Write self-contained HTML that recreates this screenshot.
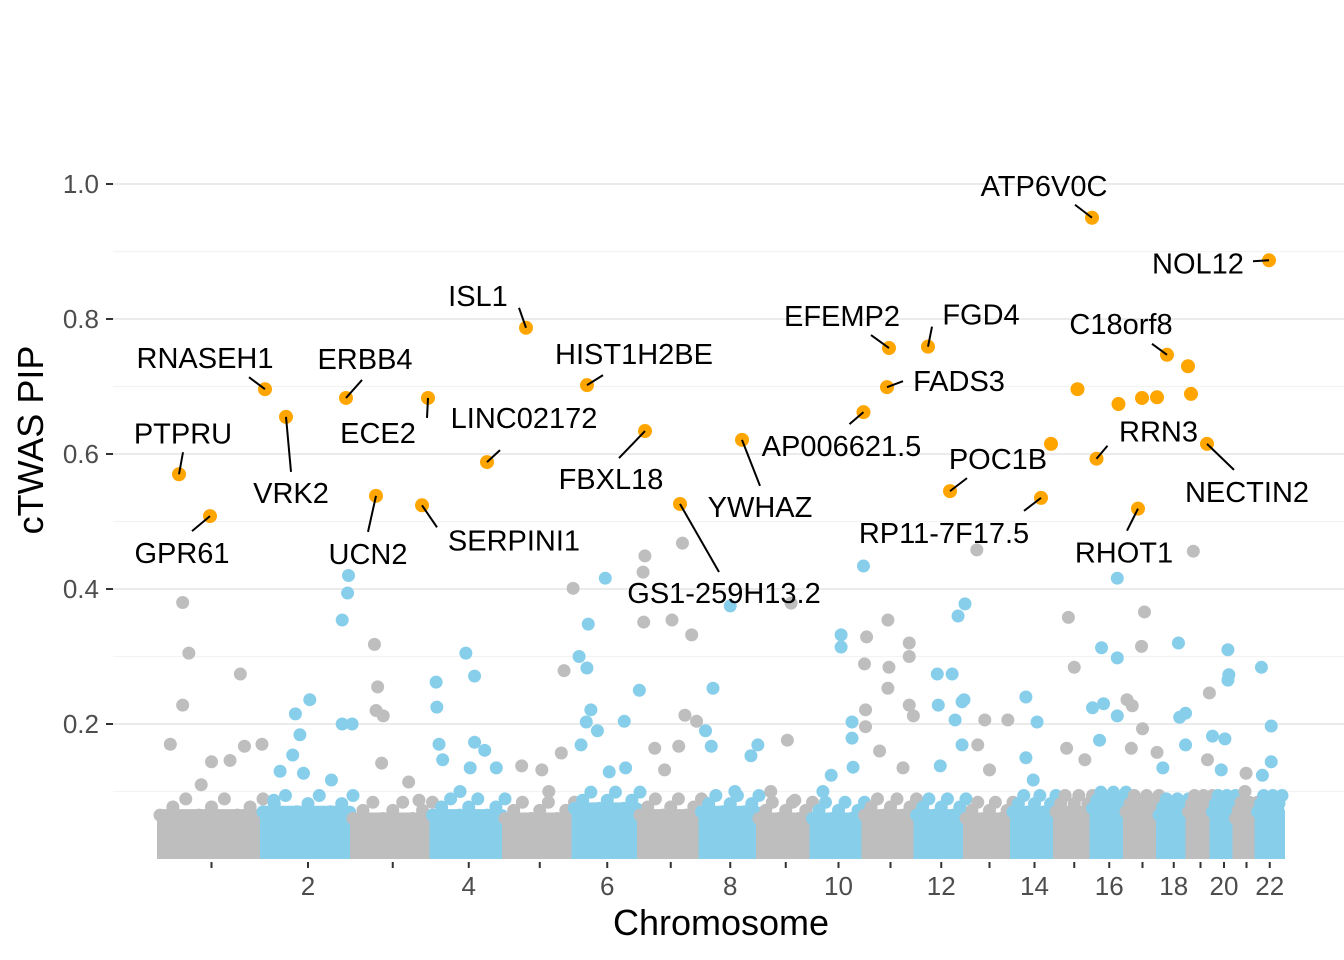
<!DOCTYPE html>
<html><head><meta charset="utf-8">
<style>
html,body{margin:0;padding:0;background:#fff;}
svg{display:block;font-family:"Liberation Sans",Arial,sans-serif;}
</style></head>
<body>
<svg id="chart" width="1344" height="960" viewBox="0 0 1344 960" xmlns="http://www.w3.org/2000/svg">
<rect width="1344" height="960" fill="#fff"/>
<defs><clipPath id="pc"><rect x="113" y="120" width="1231" height="739"/></clipPath></defs>
<g id="grid"></g>
<g id="yaxis"></g>
<g id="xaxis"></g>
<g id="bands" clip-path="url(#pc)"></g>
<g id="pts" clip-path="url(#pc)"></g>
<g id="hits"></g>
<g id="labels"></g>
<text x="721" y="935" font-size="36" text-anchor="middle" fill="#000">Chromosome</text>
<text transform="translate(43,440) rotate(-90)" font-size="36" text-anchor="middle" fill="#000">cTWAS PIP</text>
</svg>
<script>
const chrLengths=[103,90,79.5,72.5,69.5,65.5,61.5,57.5,53.5,52,52,49.5,47,43,36.5,33.5,33,29.5,24,23,22,24.5];
const yTicks=[0.2,0.4,0.6,0.8,1.0];
const yTickLabels=["0.2","0.4","0.6","0.8","1.0"];
const xTickLabels=["","2","","4","","6","","8","","10","","12","","14","","16","","18","","20","","22"];
const bandTop=[0.065,0.07,0.06,0.065,0.06,0.075,0.065,0.07,0.06,0.06,0.065,0.065,0.06,0.07,0.07,0.075,0.07,0.065,0.07,0.07,0.06,0.07];
// background points: [chromosome, fractional position, pip]
const bgChr=[1,1,1,1,1,1,1,1,1,1, 2,2,2,2,2,2,2,2,2,2,2,2,2, 3,3,3,3,3,3,3, 4,4,4,4,4,4,4,4,4,4,4, 5,5,5,5,5,5, 6,6,6,6,6,6,6,6,6,6,6,6, 7,7,7,7,7,7,7,7,7,7,7, 8,8,8,8,8,8,8, 9,9,9,9, 10,10,10,10,10,10,10,10, 11,11,11,11,11,11,11,11,11,11,11,11,11, 12,12,12,12,12,12,12,12,12,12, 13,13,13,13,13, 14,14,14,14, 15,15,15,15, 16,16,16,16,16,16,16, 17,17,17,17,17,17,17, 18,18,18,18,18, 19,19,19, 20,20,20,20,20,20, 21,21, 22,22,22,22];
const bgPos=[0.22,0.28,0.22,0.78,0.1,0.5,0.82,0.4,0.68,0.99, 0.52,0.36,0.41,0.33,0.88,0.94,0.95,0.88,0.99,0.45,0.19,0.76,0.12, 0.27,0.31,0.29,0.38,0.36,0.7,0.83, 0.05,0.06,0.46,0.58,0.09,0.14,0.58,0.72,0.88,0.52,0.38, 0.98,0.85,0.53,0.81,0.24,0.63, 0.47,0.21,0.07,0.19,0.99,0.25,0.18,0.35,0.76,0.1,0.53,0.78, 0.08,0.05,0.06,0.69,0.52,0.84,0.73,0.92,0.24,0.63,0.4, 0.5,0.2,0.07,0.17,0.98,0.86,0.58, 0.6,0.53,0.67,0.22, 0.98,0.55,0.55,0.76,0.76,0.78,0.36,0.2, 0.45,0.04,0.0,0.47,0.45,0.29,0.86,0.86,0.86,0.94,0.02,0.02,0.74, 0.84,0.98,0.42,0.72,0.44,0.78,0.92,0.96,0.92,0.48, 0.23,0.4,0.25,0.89,0.5, 0.3,0.56,0.3,0.47, 0.34,0.5,0.29,0.79, 0.27,0.33,0.0,0.74,0.74,0.74,0.21, 0.56,0.47,0.03,0.19,0.5,0.94,0.16, 0.66,0.9,0.7,0.9,0.13, 0.2,0.87,0.79, 0.67,0.71,0.67,0.0,0.54,0.38, 0.48,0.43, 0.16,0.56,0.56,0.2];
const bgPip=[0.38,0.305,0.228,0.274,0.17,0.144,0.167,0.11,0.146,0.17, 0.236,0.215,0.184,0.154,0.354,0.394,0.42,0.2,0.2,0.127,0.13,0.117,0.087, 0.318,0.255,0.22,0.212,0.142,0.114,0.087, 0.262,0.225,0.305,0.271,0.17,0.147,0.173,0.161,0.135,0.135,0.1, 0.401,0.279,0.132,0.157,0.138,0.1, 0.416,0.348,0.3,0.283,0.25,0.221,0.203,0.19,0.204,0.169,0.129,0.135, 0.449,0.425,0.351,0.468,0.354,0.332,0.213,0.204,0.164,0.167,0.132, 0.375,0.253,0.19,0.167,0.169,0.153,0.1, 0.379,0.176,0.087,0.1, 0.434,0.332,0.314,0.203,0.179,0.136,0.124,0.1, 0.354,0.329,0.289,0.284,0.253,0.16,0.32,0.3,0.228,0.212,0.221,0.196,0.135, 0.36,0.378,0.274,0.274,0.228,0.206,0.233,0.236,0.169,0.138, 0.458,0.206,0.169,0.206,0.132, 0.24,0.203,0.15,0.117, 0.358,0.284,0.164,0.147, 0.313,0.23,0.224,0.416,0.298,0.212,0.176, 0.366,0.315,0.236,0.227,0.193,0.158,0.164, 0.32,0.216,0.21,0.169,0.135, 0.456,0.246,0.147, 0.31,0.273,0.265,0.182,0.178,0.132, 0.127,0.1, 0.284,0.197,0.144,0.124];
// highlighted genes (position in chromosome length units)
const hitChr=[1,1,2,2,2,3,3,3,5,4,6,7,7,8,10,11,11,12,12,14,14,15,15,16,16,17,17,18,17,18,19,19,22];
const hitPos=[19,50,2,23,83,23,75,69,21,54.5,12.5,5,40,40.5,51,24.5,22.5,11.5,33.5,28,38,36,21.5,4,26,16,31,8,12,29,2.5,18.5,11.5];
const hitPip=[0.570,0.508,0.696,0.655,0.683,0.538,0.683,0.524,0.787,0.588,0.702,0.634,0.526,0.621,0.662,0.757,0.699,0.759,0.545,0.535,0.615,0.950,0.696,0.593,0.674,0.683,0.684,0.747,0.519,0.730,0.689,0.615,0.887];
const hitLabels=["PTPRU","GPR61","RNASEH1","VRK2","ERBB4","UCN2","ECE2","SERPINI1","ISL1","LINC02172","HIST1H2BE","FBXL18","GS1-259H13.2","YWHAZ","AP006621.5","EFEMP2","FADS3","FGD4","POC1B","RP11-7F17.5","","ATP6V0C","","RRN3","","","","C18orf8","RHOT1","","","NECTIN2","NOL12"];
// label offsets relative to point: [text dx, text dy, line end dx, line end dy]
const labOff=[[4,-41,4,-22],[-28,37,-18,15],[-60,-31,-16,-12],[5,76,5,55],[19,-39,16,-18],[-8,58,-8,36],[-50,35,-1,20],[92,35,15,22],[-48,-32,-7,-20],[37,-44,13,-12],[47,-31,16,-10],[-34,48,-26,27],[44,89,39,68],[18,67,18,46],[-22,34,-14,12],[-47,-32,-18,-13],[72,-6,16,-6],[53,-32,4,-20],[48,-32,17,-13],[-97,35,-17,13],null,[-48,-32,-17,-13],null,[62,-27,11,-13],null,null,null,[-46,-31,-15,-11],[-14,44,-11,22],null,null,[40,48,27,26],[-71,3,-16,1]];

const NS="http://www.w3.org/2000/svg";
const X0=160,X1=1282,Y0=859,YS=675;
const total=chrLengths.reduce((a,b)=>a+b,0);
const starts=[];let acc=0;for(const l of chrLengths){starts.push(acc);acc+=l;}
const xMb=cum=>X0+(cum/total)*(X1-X0);
const xPos=(c,mb)=>xMb(starts[c-1]+mb);
const y=v=>Y0-v*YS;
const col=c=>c%2===1?"#BEBEBE":"#87CEEB";
function mk(t,a,p){const e=document.createElementNS(NS,t);for(const k in a)e.setAttribute(k,a[k]);p.appendChild(e);return e;}

const grid=document.getElementById('grid');
for(let v=0.1;v<1.05;v+=0.2){const l=mk('line',{x1:113,x2:1344,y1:y(v),y2:y(v),stroke:'#F3F3F3','stroke-width':1.2},grid);

}
const ya=document.getElementById('yaxis');
yTicks.forEach((v,i)=>{
 const g=mk('line',{x1:113,x2:1344,y1:y(v),y2:y(v),stroke:'#EBEBEB','stroke-width':2},grid);
 
 
 const t=mk('line',{x1:106,x2:113,y1:y(v),y2:y(v),stroke:'#333','stroke-width':2},ya);
 
 
 const tx=mk('text',{x:99,y:y(v)+9,'font-size':26,'text-anchor':'end',fill:'#4D4D4D'},ya);tx.textContent=yTickLabels[i];
 
 
});
const xa=document.getElementById('xaxis');
chrLengths.forEach((l,i)=>{
 const cx=xMb(starts[i]+l/2);
 const t=mk('line',{x1:cx,x2:cx,y1:862,y2:868,stroke:'#333','stroke-width':2},xa);
 
 
 if(xTickLabels[i]){const tx=mk('text',{x:cx,y:895,'font-size':26,'text-anchor':'middle',fill:'#4D4D4D'},xa);tx.textContent=xTickLabels[i];
 
 }
});
const bands=document.getElementById('bands');
chrLengths.forEach((l,i)=>{
 const xa0=xMb(starts[i])-3,xa1=xMb(starts[i]+l)+3;
 const r=mk('rect',{x:xa0,y:y(bandTop[i])-6,width:xa1-xa0,height:Y0-y(bandTop[i])+12,rx:6,fill:col(i+1)},bands);
 
 
 for(let k=0;k<=8;k++){const f=k/8;const c=mk('circle',{cx:xa0+3+f*(xa1-xa0-6),cy:y(bandTop[i]+((k%3)*0.012)),r:6.5,fill:col(i+1)},bands);
 
 }
});
const pts=document.getElementById('pts');
bgChr.forEach((c,i)=>{
 const p=mk('circle',{cx:xPos(c,bgPos[i]*chrLengths[c-1]),cy:y(bgPip[i]),r:6.5,fill:col(c)},pts);
 
 
});
const hits=document.getElementById('hits'),labs=document.getElementById('labels');
hitChr.forEach((c,i)=>{
 const px=xPos(c,hitPos[i]),py=y(hitPip[i]);
 const o=labOff[i];
 if(o&&hitLabels[i]){
  const ln=mk('line',{x1:px,y1:py,x2:px+o[2],y2:py+o[3],stroke:'#000','stroke-width':2},labs);
  
  
  const t=mk('text',{x:px+o[0],y:py+o[1]+10,'font-size':29,'text-anchor':'middle',fill:'#000'},labs);t.textContent=hitLabels[i];
  
  
 }
 const p=mk('circle',{cx:px,cy:py,r:7,fill:'#FFA500'},hits);
 
 
});
</script>
</body></html>
